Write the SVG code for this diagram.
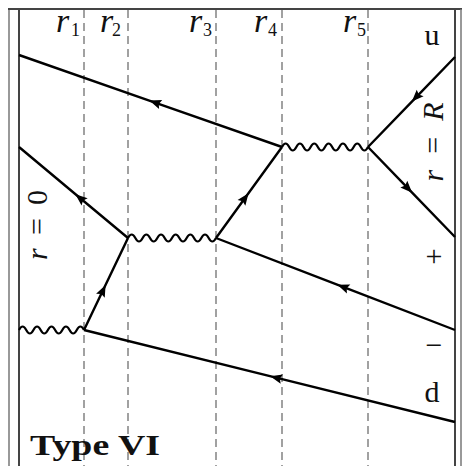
<svg xmlns="http://www.w3.org/2000/svg" width="462" height="466" viewBox="0 0 462 466">
  <defs>
    <marker id="arr" viewBox="-8 -6 16 12" markerWidth="16" markerHeight="12" refX="0" refY="0" orient="auto" markerUnits="userSpaceOnUse">
      <path d="M6,0 L-6,-4.8 L-4,0 L-6,4.8 Z" fill="#000"/>
    </marker>
  </defs>
  <style>
    .frame{fill:none;stroke:#444;stroke-width:2}
    .frame2{fill:none;stroke:#777;stroke-width:1.5}
    .dash{fill:none;stroke:#8a8a8a;stroke-width:1.6;stroke-dasharray:8 5}
    .fer{fill:none;stroke:#000;stroke-width:2.4;marker-mid:url(#arr)}
    .wav{fill:none;stroke:#000;stroke-width:2.2}
    .lbl{font-family:"Liberation Serif","DejaVu Serif",serif;font-size:30px;fill:#111}
    .it{font-style:italic}
    .rr{font-family:"Liberation Serif","DejaVu Serif",serif;font-size:34px;font-style:italic;fill:#111}
    .sub{font-family:"Liberation Serif","DejaVu Serif",serif;font-size:18px;font-style:normal;fill:#111}
    .bold{font-family:"Liberation Serif","DejaVu Serif",serif;font-size:30px;font-weight:bold;fill:#111}
  </style>
  <rect width="462" height="466" fill="#fff"/>
  <g id="frame">
    <line class="frame2" x1="9" y1="9" x2="9" y2="466"/>
    <line class="frame" x1="19" y1="9" x2="19" y2="466"/>
    <line class="frame" x1="8" y1="9" x2="462" y2="9"/>
    <line class="frame" x1="455" y1="9" x2="455" y2="466"/>
    <line class="frame2" x1="461" y1="9" x2="461" y2="466"/>
  </g>
  <g id="radii">
    <line class="dash" x1="84" y1="10" x2="84" y2="466"/>
    <line class="dash" x1="128" y1="10" x2="128" y2="466"/>
    <line class="dash" x1="216" y1="10" x2="216" y2="466"/>
    <line class="dash" x1="282" y1="10" x2="282" y2="466"/>
    <line class="dash" x1="368" y1="10" x2="368" y2="466"/>
  </g>
  <g id="connectors">
    <path class="fer" d="M282,147 L155,102.6 L19,55"/>
    <path class="fer" d="M455,57 L416,97.3 L368,147"/>
    <path class="fer" d="M368,147 L408,188.4 L455,237"/>
    <path class="fer" d="M128,238 L80,198 L19,147"/>
    <path class="fer" d="M216,238 L245,198 L282,147"/>
    <path class="fer" d="M455,330 L343,286.9 L216,238"/>
    <path class="fer" d="M84,330 L103,290.3 L128,238"/>
    <path class="fer" d="M455,422 L276,377.6 L84,330"/>
    <path class="wav" d="M282,147 q3.583,-7 7.167,0 t7.167,0 t7.167,0 t7.167,0 t7.167,0 t7.167,0 t7.167,0 t7.167,0 t7.167,0 t7.167,0 t7.167,0 t7.167,0"/>
    <path class="wav" d="M128,238 q3.667,-7 7.333,0 t7.333,0 t7.333,0 t7.333,0 t7.333,0 t7.333,0 t7.333,0 t7.333,0 t7.333,0 t7.333,0 t7.333,0 t7.333,0"/>
    <path class="wav" d="M19,330 q3.611,-7 7.222,0 t7.222,0 t7.222,0 t7.222,0 t7.222,0 t7.222,0 t7.222,0 t7.222,0 t7.222,0"/>
  </g>
  <g id="labels">
    <text class="rr" x="56" y="32">r<tspan class="sub" x="71" y="36">1</tspan></text>
    <text class="rr" x="100" y="32">r<tspan class="sub" x="112" y="36">2</tspan></text>
    <text class="rr" x="189" y="32">r<tspan class="sub" x="203" y="36">3</tspan></text>
    <text class="rr" x="254" y="32">r<tspan class="sub" x="268" y="36">4</tspan></text>
    <text class="rr" x="343" y="32">r<tspan class="sub" x="357" y="36">5</tspan></text>
    <text class="lbl" x="432" y="45" text-anchor="middle">u</text>
    <text class="lbl" x="434" y="266" text-anchor="middle">+</text>
    <text class="lbl" x="434" y="355" text-anchor="middle">−</text>
    <text class="lbl" x="432" y="402" text-anchor="middle">d</text>
    <text class="lbl" transform="translate(47,225) rotate(-90)" text-anchor="middle" textLength="70"><tspan class="it">r</tspan> = 0</text>
    <text class="lbl" transform="translate(443,142) rotate(-90)" text-anchor="middle" textLength="79"><tspan class="it">r</tspan> = <tspan class="it">R</tspan></text>
    <text class="bold" x="30" y="455" textLength="130" lengthAdjust="spacingAndGlyphs">Type VI</text>
  </g>
</svg>
